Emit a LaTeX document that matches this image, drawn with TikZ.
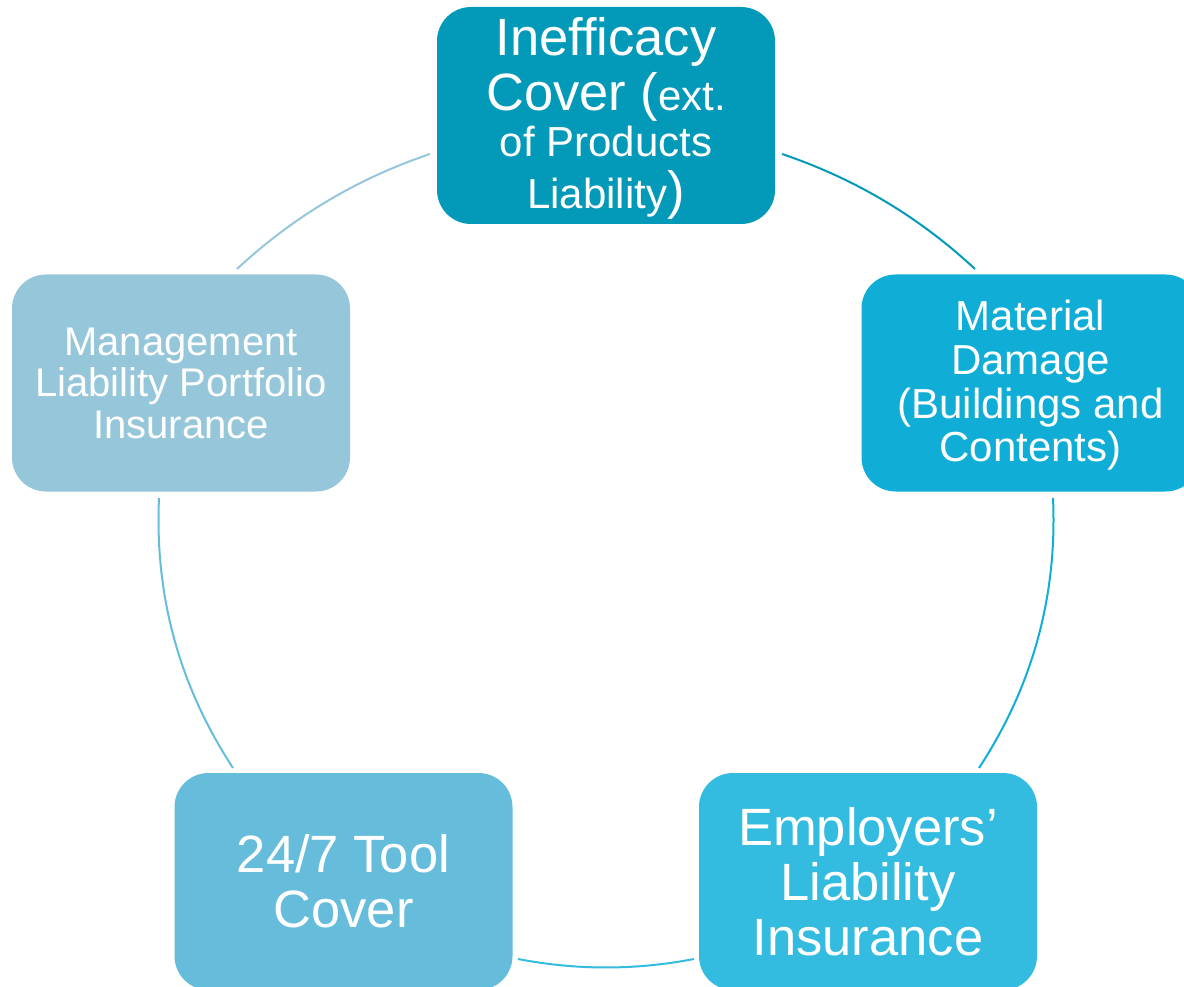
\documentclass[tikz,border=0pt]{standalone}
\usepackage{fontspec}
\setmainfont{Liberation Sans}

\definecolor{cTop}{RGB}{3,153,184}
\definecolor{cRight}{RGB}{16,174,214}
\definecolor{cLowRight}{RGB}{51,187,224}
\definecolor{cLowLeft}{RGB}{102,189,219}
\definecolor{cLeft}{RGB}{150,198,218}

\newcommand{\bigpart}[1]{{\fontsize{52.5}{46}\selectfont #1}}
\newcommand{\textsize}[2]{\fontsize{#1}{#2}\selectfont\lineskiplimit=-100pt\relax\lineskip=0pt\relax}

\begin{document}
\begin{tikzpicture}[x=1pt,y=-1pt,
  card/.style={rounded corners=34pt, minimum width=338pt, minimum height=217pt,
    inner sep=0pt, text=white, align=center},
  ring/.style={line width=2pt}]

\clip (0,0) rectangle (1184,987);

% the five cover boxes (the struts lower the text block a little)
\node[card, fill=cTop, font=\textsize{42}{46}]
  (inefficacy) at (606,115.5)
  {\rule{0pt}{44.5pt}\bigpart{Inefficacy}\\[9pt]\bigpart{Cover (}ext.\\of Products\\[6pt]Liability\bigpart{)}};

\node[card, fill=cRight, font=\textsize{42}{43.7}]
  (material) at (1030.5,383)
  {\rule{0pt}{35pt}Material\\Damage\\(Buildings and\\Contents)};

\node[card, fill=cLowRight, font=\textsize{52.5}{55}]
  (employers) at (868,881.5)
  {Employers’\\Liability\\Insurance};

\node[card, fill=cLowLeft, font=\textsize{52.5}{55}]
  (tool) at (343.5,881.5)
  {24/7 Tool\\Cover};

\node[card, fill=cLeft, font=\textsize{40}{41.5}]
  (management) at (181,383)
  {Management\\Liability Portfolio\\Insurance};

% ends of the ring segments between the boxes
\coordinate (tlA) at (430,154);   \coordinate (tlB) at (237,269);
\coordinate (trA) at (782,154);   \coordinate (trB) at (975,269);
\coordinate (lA)  at (159,498);   \coordinate (lB)  at (233,768);
\coordinate (rA)  at (1053,498);  \coordinate (rB)  at (979,768);
\coordinate (bA)  at (518,959);   \coordinate (bB)  at (694,959);

% ring segments
\draw[ring, draw=cLeft]     (tlA) .. controls (357.4,178.5) and (293.1,216.8) .. (tlB);
\draw[ring, draw=cTop]      (trA) .. controls (854.6,178.5) and (918.9,216.8) .. (trB);
\draw[ring, draw=cLowLeft]  (lA)  .. controls (154.6,595.9) and (179.3,685.9) .. (lB);
\draw[ring, draw=cRight]    (rA)  .. controls (1057.4,595.9) and (1032.7,685.9) .. (rB);
\draw[ring, draw=cLowRight] (bA)  .. controls (576.7,970.3) and (635.3,970.3) .. (bB);

\end{tikzpicture}
\end{document}
